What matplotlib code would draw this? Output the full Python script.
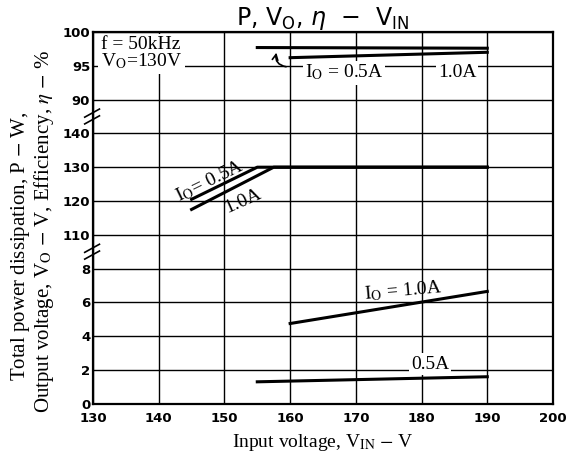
import matplotlib
matplotlib.use("Agg")
import matplotlib.pyplot as plt
import matplotlib.transforms as mtransforms
import numpy as np

# ---------------------------------------------------------------------------
# Data (three stacked y sections)
# ---------------------------------------------------------------------------
# Efficiency, eta (%)
vin_eff_05 = [155, 190]
eff_05 = [97.7, 97.6]
vin_eff_10 = [160, 190]
eff_10 = [96.2, 97.0]

# Output voltage, Vo (V)
vin_vo_05 = [145, 155, 190]
vo_05 = [120.5, 130, 130]
vin_vo_10 = [145, 157.5, 190]
vo_10 = [117.5, 130, 130]

# Total power dissipation, P (W)
vin_p_05 = [155, 190]
p_05 = [1.3, 1.6]
vin_p_10 = [160, 190]
p_10 = [4.75, 6.65]

x_ticks = [130, 140, 150, 160, 170, 180, 190, 200]
p_ticks = [0, 2, 4, 6, 8]
vo_ticks = [110, 120, 130, 140]
eff_ticks = [90, 95, 100]


# map each section onto one stacked axis (one grid row per tick step)
def p_to_y(p):
    return np.asarray(p, dtype=float) / 2


def vo_to_y(v):
    return 5 + (np.asarray(v, dtype=float) - 110) / 10


def eff_to_y(e):
    return 9 + (np.asarray(e, dtype=float) - 90) / 5


SERIF = "Liberation Serif"

fig = plt.figure(figsize=(5.73, 4.63), dpi=100)
fig.patch.set_facecolor("white")
ax = fig.add_axes([0.1623, 0.1279, 0.8028, 0.803])

lw_data = 2.2
ax.plot(vin_eff_05, eff_to_y(eff_05), color="black", lw=lw_data, zorder=4)
ax.plot(vin_eff_10, eff_to_y(eff_10), color="black", lw=lw_data, zorder=4)
ax.plot(vin_vo_05, vo_to_y(vo_05), color="black", lw=lw_data, zorder=4)
ax.plot(vin_vo_10, vo_to_y(vo_10), color="black", lw=lw_data, zorder=4)
ax.plot(vin_p_05, p_to_y(p_05), color="black", lw=lw_data, zorder=4)
ax.plot(vin_p_10, p_to_y(p_10), color="black", lw=lw_data, zorder=4)

# ticks / grid
yt = list(p_to_y(p_ticks)) + list(vo_to_y(vo_ticks)) + list(eff_to_y(eff_ticks))
ylabels = [str(t) for t in p_ticks + vo_ticks + eff_ticks]
ax.set_yticks(yt)
ax.set_yticklabels(ylabels)
ax.set_xticks(x_ticks)
ax.set_xlim(130, 200)
ax.set_ylim(0, 11)
ax.tick_params(axis="y", length=0, pad=2, labelsize=9.5)
ax.tick_params(axis="x", length=0, pad=6, labelsize=9.5)
for lab in ax.get_xticklabels() + ax.get_yticklabels():
    lab.set_fontweight("bold")
ax.grid(True, color="black", lw=1.0)
ax.set_axisbelow(True)
for spine in ax.spines.values():
    spine.set_linewidth(1.6)

# axis break marks on the left spine
trans = mtransforms.blended_transform_factory(ax.transAxes, ax.transData)
for yb in [4.5, 8.5]:
    for off in [-0.1, 0.1]:
        ax.plot([-0.018, 0.014], [yb + off - 0.12, yb + off + 0.12],
                color="black", lw=1.2, transform=trans, clip_on=False, zorder=5)

# titles and labels
ax.set_title(r"P, V$_{\rm O}$, $\eta$  $-$  V$_{\rm IN}$", fontsize=17,
             pad=3, math_fontfamily="dejavusans")
ax.set_xlabel(r"Input voltage, V$_{\rm IN}$ $-$ V", fontsize=14,
              family=SERIF, math_fontfamily="stix", labelpad=5)
fig.text(0.036, 0.468, r"Total power dissipation, P $-$ W,", rotation=90,
         ha="center", va="center", fontsize=15, family=SERIF,
         math_fontfamily="stix")
fig.text(0.077, 0.50, r"Output voltage, V$_{\rm O}$ $-$ V, Efficiency, $\eta$ $-$ %",
         rotation=90, ha="center", va="center", fontsize=15, family=SERIF,
         math_fontfamily="stix")

box = dict(facecolor="white", edgecolor="none", pad=1.5)
tkw = dict(family=SERIF, math_fontfamily="stix", fontsize=14)

ax.text(131.2, 10.88, "f = 50kHz\nV$_{\\rm O}$=130V", ha="left", va="top",
        linespacing=0.9, bbox=dict(facecolor="white", edgecolor="none", pad=2),
        zorder=6, **tkw)

# efficiency labels
ax.text(168.2, float(eff_to_y(94.0)), r"I$_{\rm O}$ = 0.5A", ha="center",
        va="center", bbox=box, zorder=6, **tkw)
ax.text(185.4, float(eff_to_y(94.0)), "1.0A", ha="center", va="center",
        bbox=box, zorder=6, **tkw)
ax.annotate("", xy=(158.0, float(eff_to_y(97.35))),
            xytext=(159.8, float(eff_to_y(94.8))),
            arrowprops=dict(arrowstyle="->", color="black", lw=1.2,
                            connectionstyle="arc3,rad=-0.6"), zorder=6)

# output voltage labels
ax.text(147.8, float(vo_to_y(126.0)), r"I$_{\rm O}$= 0.5A", ha="center",
        va="center", rotation=26, zorder=6, **tkw)
ax.text(152.8, float(vo_to_y(120.0)), "1.0A", ha="center", va="center",
        rotation=24, zorder=6, **tkw)

# power labels
ax.text(177.2, float(p_to_y(6.7)), r"I$_{\rm O}$ = 1.0A", ha="center",
        va="center", rotation=5, zorder=6, **tkw)
ax.text(181.3, float(p_to_y(2.35)), "0.5A", ha="center", va="center",
        bbox=box, zorder=6, **tkw)

fig.savefig("out.png", dpi=100, facecolor="white")
